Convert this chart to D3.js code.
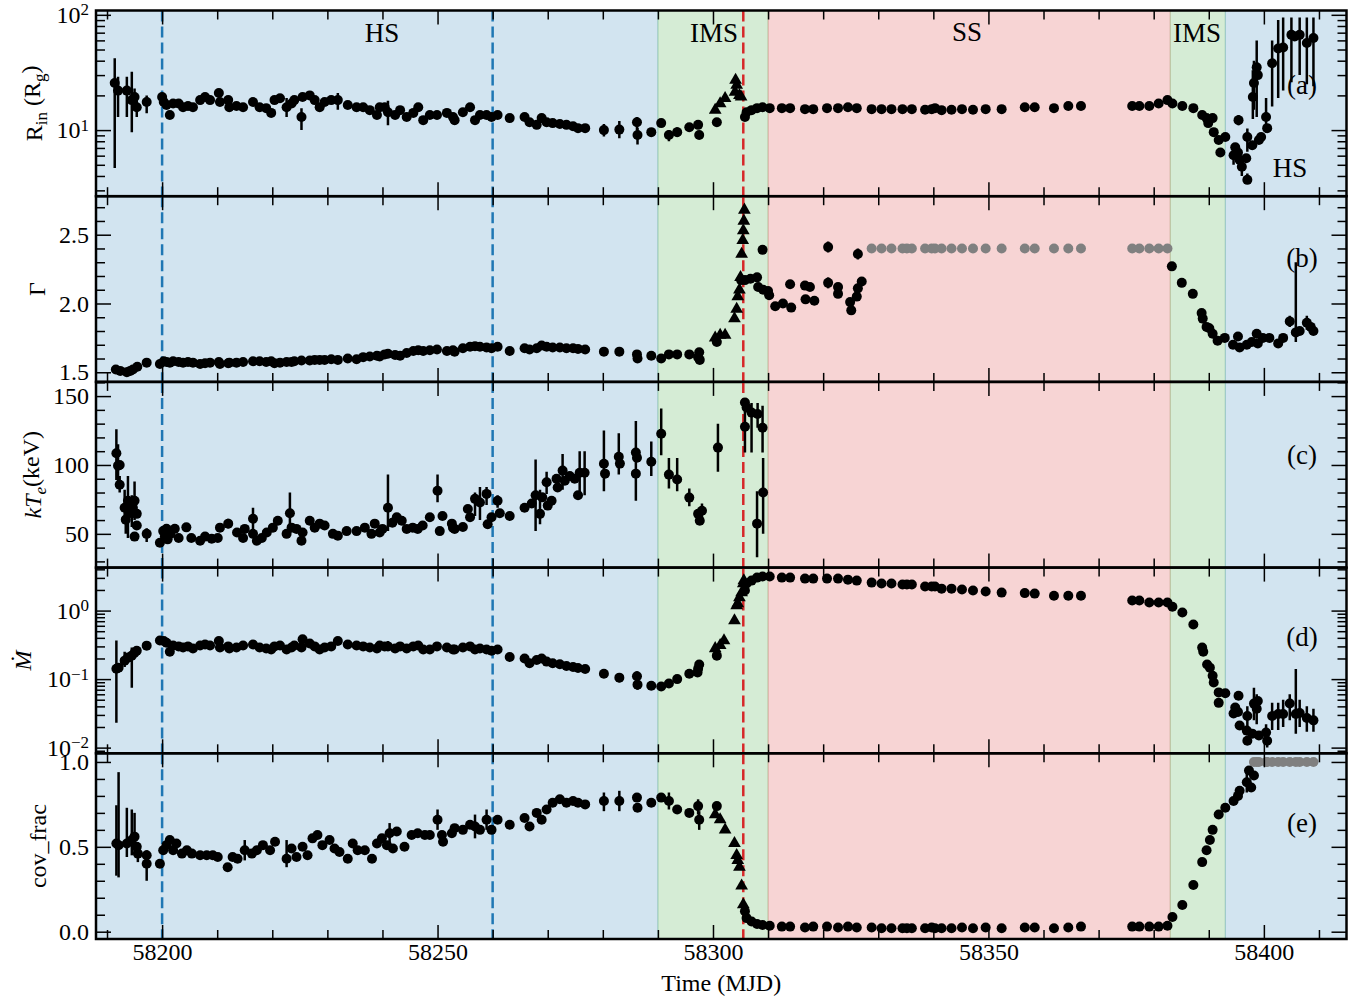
<!DOCTYPE html>
<html>
<head>
<meta charset="utf-8">
<script src="https://cdn.jsdelivr.net/npm/d3@7"></script>
<style>
  body { margin: 0; background: #fff; }
  text { font-family: "Liberation Serif", "DejaVu Serif", serif; fill: #000; }
</style>
</head>
<body>
<div id="chart"></div>
<script>

// Figure size and panel layout
const width = 1366;
const height = 1002;
const margin = {left: 96, right: 19.5, top: 10.5};
const panelH = 185.7;

// ---- data ----

// x axis (MJD)
const xDomain = [58188, 58415];
const xTicks = [58200, 58250, 58300, 58350, 58400];

// spectral states: name, start, end
const stateNames = ["HS", "IMS", "SS", "IMS", "HS"];
const stateStart = [58188, 58290, 58310, 58383, 58393];
const stateEnd = [58290, 58310, 58383, 58393, 58415];

// marker days
const blueLines = [58200, 58260];
const redLine = 58305.5;

// point rows: [mjd, value, lower, upper] (lower/upper optional)
const rinDots = [
  [58191.4,25.6,4.7,42],[58192.0,22,13,29],[58193.6,22,13,29],[58194.5,18.2,9.6,32],[58195,19.4,16,23],[58195.4,15.8,13,19],[58197.2,17.5,14,20],
  [58200,19.4],[58200.3,17.5],[58200.8,16.5],[58201.4,13.5],[58202,17],[58203,17],[58203.8,15.8],[58204.7,16.2],[58205.6,15.8],[58206.9,18.2],[58207.8,19.4],[58208.7,18.2],[58210.3,21],[58210.5,17.5],[58212,18.2],[58212.2,15.8],[58213.5,16.2],[58214.7,15.8],[58216.5,17.5],[58217.7,15.8],[58218.9,15.5],[58219.8,14.1],[58220.4,18.2],[58221.4,18.9],[58222.6,15.8,13,19],[58223.5,17],[58224,18.2],[58225.3,13,10,15.5],[58225.5,19.4],[58226.8,20],[58227.7,18.2],[58228.6,15.8],[58229.5,17.5],[58230.7,18.2],[58231.9,18.2,15,21],[58233.7,16.5],[58235.3,15.8],[58236.5,15.8],[58237.7,14.9],[58239,13.5],[58239.5,15.8],[58240.4,15.8],[58241,14.3,11,18],[58242.3,13.5],[58243.2,14.9],[58244.4,13],[58245.6,14.1],[58246.5,15.8],[58247.4,12.2],[58248.6,13.5],[58249.9,13.5],[58251.7,14.1],[58252.8,13],
  [58253.1,12.2],[58254.6,14.3],[58255.9,15.8],[58256.8,12.2],[58257.7,13.5],[58258.9,13.5],[58259.8,13],[58260.9,13.5],[58263.1,12.7],[58265.8,13],[58266.7,11.7],[58268,11.1],[58268.9,12.7],[58269.8,11.7],[58270.9,11.5],[58272.2,11.3],[58273.4,11.1],[58274.6,10.8],[58275.5,10.4],[58276.8,10.4],
  [58280.2,10,8.8,11.3],[58283,10.1,8.5,12],[58286.2,11.7,10,13],[58286.3,9.05,7.5,10.5],[58288.8,9.6],[58290.6,11.5],[58292,9.05,8,10],[58293.5,9.6,8.7,10.6],[58295.7,10.6],[58297.3,11.1],[58297.5,9.05],[58300.7,11.7],
  [58305.8,13],[58306.1,14.3],[58307,14.9],[58308,15.5],[58309,15.8],[58310.3,15.5],[58312.5,15.5],[58314,15.5],[58316.7,15.2],[58318.2,15.2],[58320.7,15.5],[58322.7,15.5],[58324.5,15.8],[58326.1,15.5],[58328.8,15.2],[58330.6,15.2],[58332.4,15.2],[58334.4,15.2],[58336.1,15.2],[58338.5,15],[58339.7,15.2],[58340.3,15.5],[58341.5,14.9],[58343.3,15],[58345.2,15.2],[58347.2,15],[58349.5,15.2],[58352.4,15.2],[58356.6,15.8],[58358.4,15.8],[58361.9,15.5],[58364.5,16.2],[58366.8,16.2],
  [58376.1,16.2],[58377.4,16.2],[58379.2,16.2],[58380.9,17],[58382.5,18.2],[58383.4,17],[58385.2,16.2],[58387.2,15.5],[58388.8,13.5],[58389.6,12.7],[58389.9,11.5],[58390.7,12.7],[58390.9,9.6],[58391.8,8.2],[58392.1,6.4],[58393,8.7],
  [58394.5,6.05,5,7.3],[58394.8,7.1],[58395.3,6.4],[58395.4,12.2,11,13.5],[58395.6,5.5],[58396,4.8,4,5.6],[58396.8,5.7],[58397,8.7,6.5,10.3],[58397,3.7,3.4,4.2],[58397.9,7.4],[58398,19.4,12.5,33],[58398.2,25.6,15,40],[58398.7,35,13,60],[58398.9,30],[58399.1,8.2],[58399.5,8.7],[58400.4,13,9.5,19],[58400.6,10.4],[58401.5,38,16,60],[58402.6,51,19,90],[58403.5,52,22,95],[58405,67,26,95],[58405.6,65],[58406.5,67,30,95],[58407.8,57,25,95],[58409,63,24,95]
];
const rinTri = [
  [58300.4,14.9],[58301.3,17],[58302.2,18.9],[58304,21.4],[58304.1,27.2],[58304.3,24.6],[58304.8,20],[58305.1,19.4]
];

const gammaDots = [
  [58191.6,1.52],[58192.4,1.51],[58193.6,1.50],[58194.2,1.51],[58194.7,1.52],[58195.5,1.54],[58197.2,1.57],[58199.6,1.56],
  [58200.3,1.58],[58200.8,1.575],[58201.4,1.57],[58202,1.58],[58203,1.575],[58203.8,1.57],[58204.7,1.575],[58205.6,1.57],[58206.9,1.56],[58207.8,1.565],[58208.7,1.57],[58210.3,1.575],[58210.5,1.56],[58212,1.565],[58212.2,1.57],[58213.5,1.57],[58214.7,1.575],[58216.5,1.58],[58217.7,1.58],[58218.9,1.575],[58219.8,1.58],[58220.4,1.565],[58221.4,1.57],[58222.6,1.575],[58223.5,1.575],[58224,1.58],[58225.3,1.585],[58226.8,1.585],[58227.7,1.59],[58228.6,1.59],[58229.5,1.59],[58230.7,1.595],[58231.9,1.59],[58233.7,1.60],[58235.3,1.595],[58236.5,1.61],[58237.7,1.615],[58239,1.62],[58239.5,1.615],[58240.4,1.63],[58241,1.635],[58242.3,1.625],[58243.2,1.62],[58244.4,1.64],[58245.6,1.655],[58246.5,1.66],[58247.4,1.655],[58248.6,1.66],[58249.9,1.665],[58251.7,1.655],[58252.8,1.66],
  [58253.1,1.65],[58254.6,1.675],[58255.9,1.685],[58256.8,1.69],[58257.7,1.685],[58258.9,1.68],[58259.8,1.675],[58260.9,1.685],[58263.1,1.655],[58265.8,1.675],[58266.7,1.665],[58268,1.675],[58268.9,1.695],[58269.8,1.685],[58270.9,1.68],[58272.2,1.68],[58273.4,1.675],[58274.6,1.675],[58275.5,1.67],[58276.8,1.665],
  [58280.2,1.65],[58283,1.65],[58286.2,1.63],[58286.3,1.60],[58288.8,1.62],[58290.6,1.60],[58292,1.63],[58293.5,1.63],[58295.7,1.63],[58297.3,1.61],[58297.5,1.645],[58297.6,1.59],[58300.7,1.72],
  [58305.1,2.17],[58305.8,2.17],[58306.8,2.18],[58308,2.19],[58309,2.39],[58308.2,2.12],[58309.1,2.10],[58310,2.09],[58310.2,2.06],[58311.3,1.98],[58312.7,2.0],[58314.2,1.97],[58314,2.14],[58316.7,2.13],[58317.6,2.12],[58316.8,2.03],[58318.4,2.02],[58320.9,2.41,2.37,2.45],[58320.9,2.15,2.11,2.19],[58322.7,2.12],[58322.7,2.07],[58324.9,2.01],[58325.1,1.95],[58326.1,2.05],[58326.3,2.36,2.32,2.40],[58326.3,2.11],[58327,2.16],
  [58383.3,2.27],[58385.1,2.15],[58387.1,2.07],[58388.7,1.93],[58388.9,1.89],[58389.6,1.83],[58390.1,1.82],[58390.7,1.78],[58391.6,1.73],[58392.9,1.75],[58394.4,1.70],[58395.3,1.76],[58395.6,1.68],[58396.9,1.70],[58397.8,1.72],[58398.7,1.78],[58398.9,1.71],[58399.8,1.75],[58401,1.75],[58402.6,1.71],[58403.5,1.75],[58404.7,1.87,1.83,1.91],[58405.8,1.79,1.72,2.30],[58406.5,1.80],[58407.8,1.86,1.81,1.91],[58408.5,1.83],[58409,1.80]
];
const gammaTri = [
  [58300.4,1.75],[58301.3,1.77],[58302.2,1.77],[58303.9,1.89],[58304.3,1.96],[58304.5,2.05],[58304.8,2.10],[58305,2.19],[58305.2,2.36],[58305.4,2.46],[58305.5,2.53],[58305.6,2.60],[58305.7,2.68]
];
// photon index frozen in the soft state (grey)
const gammaFixedValue = 2.4;
const gammaFixedDays = [58328.8,58330.6,58332.4,58334.4,58335.2,58336.1,58338.5,58339.7,58340.3,58341.5,58343.3,58345.2,58347.2,58349.5,58352.4,58356.6,58358.4,58361.9,58364.5,58366.8,58376.1,58377.4,58379.2,58380.9,58382.5];

const kteDots = [
  [58191.7,108.5,89,126],[58192,99.5,88,115],[58192.3,100],[58192.3,85.7,80,92],[58193.2,69,58,82],[58193.4,60.3,50,70],[58193.8,74,47,92],[58194.5,65,55,78],[58194.7,69],[58195,74,60,88],[58195.4,64.5],[58195.4,56],[58195,48],[58197.2,50,44,54],[58199.6,43.5],
  [58200.2,52],[58200.5,48],[58201,46],[58200.8,53.7],[58201.5,50],[58202.3,53.7],[58203,47],[58204.4,54.7],[58205.3,47],[58206.9,45],[58207.8,48],[58209,46.5],[58210.1,47],[58210.5,54.5],[58212,57.4,54,61],[58213.6,51],[58214.7,47],[58215,53.6],[58216.5,61,53,69],[58216.5,50],[58217.2,45],[58218.1,47],[58219,51],[58220.1,54.5],[58221,59.5],[58222.6,50],[58223.2,65,52,80],[58223.5,54.5],[58224.4,53.6],[58225.3,45],[58225.5,51],[58226.8,59.5],[58227.7,54.5],[58228.6,57.4],[58229.5,56],[58231,50],[58231.9,48.7],[58233.5,52],[58235.3,52],[58236.8,54.5],[58238,50],[58238.6,57.4],[58239.5,51],[58240,53.6],[58241,69,52,93],[58241.8,58],[58242.6,62],[58243.5,59.5],[58244.4,53.6],[58245.5,54.5],[58246.4,53.6],[58247.3,56],[58248.6,62],[58250,81.3,73,93],[58250.4,52],[58250.9,63],[58252.6,57.4],[58253.1,53.6],
  [58252.8,54.5],[58254.6,55],[58255.5,68],[58255.9,62],[58256.8,75.4,63,80],[58257.7,72.8,60,84],[58258.9,79,71,84],[58259.1,57],[58259.8,62],[58260.9,74,69,78],[58261.3,65],[58263.1,63],[58265.8,69],[58267.1,72],[58267.8,78,52,104],[58268.6,64.5,57,82],[58269,76.5],[58269.8,87.5,79,95],[58270,70.5],[58270.7,74],[58271.6,90],[58271.8,83.6],[58272.7,95.9,82,108],[58273.1,88.6],[58274,92],[58274.9,90],[58275.5,78],[58275.8,94.4,78,110],[58276.7,94.4,78,110],
  [58280.2,100.9,81,125],[58280.4,93.7],[58282.9,106,93,123],[58283.1,101],[58286,109,74,132],[58286.2,105.3],[58286,93.7],[58288.8,102.4,92,117],[58290.6,122.7,107,141],[58292,93,83,105],[58293.5,89.4,81,105],[58295.7,76.3,70,83],[58297.3,64.5],[58297.6,59.5],[58298,66.8,60,72],[58300.9,112.6,95,130],
  [58305.8,145.3],[58306.1,141.7],[58305.8,127.8,109,145],[58307,138,109,145],[58308.1,137,127,145],[58309,127,109,143],[58308,57.4,33,81],[58309.1,80,50,105]
];

const mdotDots = [
  [58191.7,0.142,0.023,0.365],[58192.1,0.147],[58193.2,0.186,0.15,0.25],[58193.8,0.206],[58194.5,0.22,0.075,0.29],[58195,0.243],[58195.4,0.26],[58197.2,0.308,0.27,0.34],[58199.6,0.365],
  [58200.3,0.36],[58200.8,0.34],[58201.4,0.25],[58202,0.31],[58203,0.3],[58203.8,0.29],[58204.7,0.3],[58205.6,0.28],[58206.9,0.31],[58207.8,0.32],[58208.7,0.31],[58210.3,0.36],[58210.5,0.29],[58212,0.3],[58212.2,0.28],[58213.5,0.29],[58214.7,0.31],[58216.5,0.32],[58217.7,0.29],[58218.9,0.28],[58219.8,0.27],[58220.4,0.3],[58221.4,0.31],[58222.6,0.27,0.24,0.31],[58223.5,0.29],[58224,0.31],[58225.3,0.29,0.26,0.33],[58225.5,0.38],[58226.8,0.33],[58227.7,0.3],[58228.6,0.27],[58229.5,0.29],[58230.7,0.3],[58231.9,0.36],[58233.7,0.32],[58235.3,0.31],[58236.5,0.3],[58237.7,0.29],[58239,0.28],[58239.5,0.31],[58240.4,0.3],[58241,0.3,0.26,0.36],[58242.3,0.28],[58243.2,0.3],[58244.4,0.28],[58245.6,0.3],[58246.5,0.31],[58247.4,0.27],[58248.6,0.27],[58249.9,0.3],[58251.7,0.29],[58252.8,0.27],
  [58253.1,0.27],[58254.6,0.29],[58255.9,0.3],[58256.8,0.27],[58257.7,0.28],[58258.9,0.27],[58259.8,0.26],[58260.9,0.27],[58263.1,0.21],[58265.8,0.2],[58266.7,0.17],[58268,0.19],[58268.9,0.2],[58269.8,0.18],[58270.9,0.17],[58272.2,0.165],[58273.4,0.155],[58274.6,0.15],[58275.5,0.145],[58276.8,0.14],
  [58280.2,0.12],[58283,0.105,0.09,0.12],[58286.2,0.11,0.1,0.13],[58286.3,0.083,0.07,0.1],[58288.8,0.08],[58290.6,0.078],[58292,0.086],[58293.5,0.1,0.09,0.11],[58295.7,0.12],[58297.3,0.142],[58297.5,0.163],[58297.2,0.125],[58300.7,0.22],
  [58305.8,1.96],[58306.1,2.48],[58307,2.74],[58308,3.03],[58309,3.14],[58310.3,3.14],[58312.5,3.03],[58314,3.03],[58316.7,2.93],[58318.2,2.93],[58320.7,2.93],[58322.7,2.93],[58324.5,2.83],[58326.1,2.74],[58328.8,2.56],[58330.6,2.48],[58332.4,2.48],[58334.4,2.4],[58335.2,2.4],[58336.1,2.4],[58338.5,2.24],[58339.7,2.24],[58340.3,2.24],[58341.5,2.09],[58343.3,2.09],[58345.2,2.03],[58347.2,1.96],[58349.5,1.9],[58352.4,1.83],[58356.6,1.8],[58358.4,1.77],[58361.9,1.65],[58364.5,1.65],[58366.8,1.65],
  [58376.1,1.4],[58377.4,1.4],[58379.2,1.31],[58380.9,1.31],[58382.5,1.31],[58383.4,1.14],[58385.2,0.935],[58387.2,0.625],[58388.8,0.288],[58389,0.25],[58389.7,0.163],[58390.2,0.147],[58390.7,0.112],[58390.9,0.089],[58391.8,0.064],[58393,0.062],[58391.8,0.045],
  [58394.5,0.0314],[58394.8,0.0385],[58395.3,0.033],[58395.4,0.057],[58395.6,0.021],[58396.9,0.0177],[58397,0.029,0.02,0.04],[58397,0.0126,0.011,0.015],[58397.9,0.016],[58398.2,0.0439,0.025,0.075],[58398.7,0.037,0.022,0.06],[58398.9,0.048],[58399.1,0.015],[58400.4,0.0166,0.012,0.022],[58400.6,0.0126,0.01,0.016],[58401.5,0.029,0.018,0.045],[58402.6,0.031,0.018,0.045],[58403.5,0.031,0.02,0.05],[58404.7,0.044,0.025,0.06],[58405.8,0.031,0.016,0.14],[58406.5,0.032,0.02,0.05],[58407.8,0.027,0.017,0.04],[58409,0.025,0.017,0.037]
];
const mdotTri = [
  [58300.4,0.28],[58301.3,0.31],[58302,0.365],[58303.9,0.715],[58304.3,1.18],[58304.5,1.27],[58304.8,1.55],[58305.2,1.83],[58305.5,2.48],[58305.6,2.74]
];

const covDots = [
  [58191.7,0.52,0.33,0.745],[58192.1,0.51,0.32,0.94],[58193.6,0.52,0.44,0.73],[58194.5,0.54,0.45,0.72],[58195,0.56,0.46,0.70],[58195.4,0.5],[58195.6,0.46,0.41,0.5],[58197.2,0.45],[58197.2,0.40,0.3,0.48],[58199.6,0.40],
  [58200.2,0.48],[58200.8,0.51],[58201.4,0.54],[58202,0.48],[58202.6,0.52],[58203.6,0.46],[58204.5,0.48],[58205.4,0.46],[58206.9,0.45],[58208.1,0.45],[58209.2,0.45],[58210.1,0.44],[58211.9,0.38],[58212.8,0.44],[58213.7,0.43],[58215,0.48,0.42,0.54],[58216.3,0.46],[58217.2,0.48],[58218.3,0.51],[58219.6,0.48],[58220.5,0.53],[58222.6,0.43,0.38,0.54],[58223.5,0.49],[58224.4,0.44],[58225.5,0.5],[58226.4,0.45],[58227.3,0.55],[58228.2,0.57],[58229.1,0.51],[58230.4,0.54],[58231.3,0.49],[58232.2,0.47],[58233.7,0.43],[58234.6,0.52],[58235.5,0.48],[58236.8,0.48],[58238.1,0.43],[58239,0.52],[58239.9,0.55],[58240.8,0.51],[58241.3,0.58,0.52,0.64],[58241.9,0.49],[58242.6,0.59],[58244,0.5],[58245.3,0.57],[58246.4,0.58],[58247.7,0.57],[58248.6,0.57],[58250,0.66,0.6,0.72],[58250.8,0.57],[58251,0.53],[58252.6,0.58],[58253.1,0.61],
  [58254.6,0.6],[58255.9,0.63],[58256.8,0.62,0.55,0.69],[58257.7,0.6],[58258.9,0.66,0.6,0.72],[58259.8,0.6],[58260.9,0.66],[58263.1,0.63],[58265.8,0.67],[58266.7,0.62],[58268,0.7],[58268.9,0.66],[58269.8,0.72],[58270.9,0.76],[58272.2,0.78],[58273.4,0.76],[58274.6,0.77],[58275.5,0.76],[58276.8,0.75],
  [58280.2,0.77,0.71,0.82],[58283,0.77,0.71,0.83],[58286.2,0.79],[58286.3,0.73],[58288.8,0.76],[58290.6,0.79],[58292,0.77,0.72,0.82],[58293.5,0.72],[58295.7,0.70],[58297.3,0.74,0.69,0.78],[58297.5,0.66,0.6,0.71],[58300.7,0.74],
  [58305.8,0.12],[58306.1,0.08],[58307,0.06],[58308,0.045],[58309,0.04],[58310.3,0.035],[58312.5,0.03],[58314,0.03],[58316.7,0.025],[58318.2,0.03],[58320.7,0.03],[58322.7,0.025],[58324.5,0.03],[58326.1,0.025],[58328.8,0.025],[58330.6,0.02],[58332.4,0.02],[58334.4,0.02],[58335.2,0.02],[58336.1,0.02],[58338.5,0.02],[58339.7,0.025],[58340.3,0.02],[58341.5,0.02],[58343.3,0.02],[58345.2,0.025],[58347.2,0.02],[58349.5,0.025],[58352.4,0.02],[58356.6,0.025],[58358.4,0.025],[58361.9,0.02],[58364.5,0.025],[58366.8,0.03],
  [58376.1,0.03],[58377.4,0.03],[58379.2,0.03],[58380.9,0.03],[58382.5,0.035],[58383.4,0.087],[58385.2,0.157],[58387.2,0.275],[58388.8,0.41],[58389.6,0.48],[58390.2,0.54],[58390.7,0.6],[58391.8,0.69],[58393,0.73],[58394.5,0.77],[58395.3,0.8],[58395.6,0.83],[58396.9,0.88,0.82,0.94],[58397.3,0.95],[58397.7,0.85],[58398.2,0.92]
];
const covTri = [
  [58300.4,0.69],[58301.3,0.66],[58302.2,0.6],[58303.9,0.52],[58304.3,0.45],[58304.5,0.42],[58304.8,0.38],[58305.2,0.27],[58305.5,0.16]
];
// covering fraction frozen at 1 in the late hard state (grey)
const covFixedValue = 1.0;
const covFixedDays = [58398.2,58398.7,58399.1,58400.4,58400.6,58401.5,58402.6,58403.5,58404.7,58405.8,58406.5,58407.8,58409];

// y tick values per panel
const rinTicks = [10, 100];
const gammaTicks = [1.5, 2.0, 2.5];
const kteTicks = [50, 100, 150];
const mdotTicks = [0.01, 0.1, 1];
const covTicks = [0.0, 0.5, 1.0];

// ---- drawing ----

const stateColor = {HS: "#1f77b4", IMS: "#2ca02c", SS: "#d62728"};
const plotW = width - margin.left - margin.right;

const svg = d3.select("#chart")
  .append("svg")
  .attr("width", width)
  .attr("height", height);

const x = d3.scaleLinear().domain(xDomain).range([margin.left, margin.left + plotW]);

// log minor ticks between two decades
function logMinor(lo, hi) {
  const out = [];
  for (let e = Math.floor(Math.log10(lo)); e <= Math.ceil(Math.log10(hi)); e++) {
    for (let k = 2; k <= 9; k++) {
      const v = k * Math.pow(10, e);
      if (v >= lo && v <= hi) out.push(v);
    }
  }
  return out;
}

// "10^n" style label with superscript
function powLabel(sel) {
  sel.each(function(d) {
    const t = d3.select(this);
    const e = Math.round(Math.log10(d));
    t.text(null);
    t.append("tspan").text("10");
    t.append("tspan").attr("dy", "-0.45em").attr("font-size", "17px")
      .text(e < 0 ? "\u2212" + (-e) : String(e));
  });
}

const panels = [
  {dots: rinDots, tri: rinTri, log: true, domain: [2.67, 109], ticks: rinTicks,
   minor: logMinor(2.67, 109), tag: "(a)", labelX: 42},
  {dots: gammaDots, tri: gammaTri, grey: gammaFixedDays.map(d => [d, gammaFixedValue]),
   domain: [1.43, 2.78], ticks: gammaTicks, minor: d3.range(15, 28).map(v => v / 10),
   fmt: d3.format(".1f"), tag: "(b)", labelX: 45},
  {dots: kteDots, tri: [], domain: [25.5, 160.3], ticks: kteTicks,
   minor: d3.range(30, 161, 10), fmt: d3.format("d"), tag: "(c)", labelX: 41},
  {dots: mdotDots, tri: mdotTri, log: true, domain: [0.00826, 4.24], ticks: mdotTicks,
   minor: logMinor(0.00826, 4.24), tag: "(d)", labelX: 31},
  {dots: covDots, tri: covTri, grey: covFixedDays.map(d => [d, covFixedValue]),
   domain: [-0.043, 1.051], ticks: covTicks, minor: d3.range(0, 11).map(v => v / 10),
   fmt: d3.format(".1f"), tag: "(e)", labelX: 46}
];

const xMinor = d3.range(58190, 58415, 10).filter(v => v % 50 !== 0);

panels.forEach((p, i) => {
  const top = margin.top + i * panelH;
  const g = svg.append("g").attr("transform", `translate(0,${top})`);

  const y = (p.log ? d3.scaleLog() : d3.scaleLinear()).domain(p.domain).range([panelH, 0]);

  // clip to the panel
  const clipId = "clip" + i;
  g.append("clipPath").attr("id", clipId)
    .append("rect").attr("x", margin.left).attr("y", 0).attr("width", plotW).attr("height", panelH);
  const inner = g.append("g").attr("clip-path", `url(#${clipId})`);

  // state shading
  inner.selectAll(".span")
    .data(stateNames.map((n, k) => ({n, a: stateStart[k], b: stateEnd[k]})))
    .join("rect")
      .attr("x", d => x(d.a))
      .attr("width", d => x(d.b) - x(d.a))
      .attr("y", 0)
      .attr("height", panelH)
      .attr("fill", d => stateColor[d.n])
      .attr("fill-opacity", 0.2)
      .attr("stroke", d => stateColor[d.n])
      .attr("stroke-opacity", 0.2)
      .attr("stroke-width", 1);

  // dashed day markers
  inner.selectAll(".blue")
    .data(blueLines)
    .join("line")
      .attr("x1", d => x(d)).attr("x2", d => x(d))
      .attr("y1", 0).attr("y2", panelH)
      .attr("stroke", "#1f77b4").attr("stroke-width", 2.5)
      .attr("stroke-dasharray", "11,5");

  inner.append("line")
    .attr("x1", x(redLine)).attr("x2", x(redLine))
    .attr("y1", 0).attr("y2", panelH)
    .attr("stroke", "#d62728").attr("stroke-width", 2.5)
    .attr("stroke-dasharray", "11,5");

  // error bars
  const withErr = p.dots.concat(p.tri).filter(d => d.length > 2);
  inner.selectAll(".err")
    .data(withErr)
    .join("line")
      .attr("x1", d => x(d[0])).attr("x2", d => x(d[0]))
      .attr("y1", d => y(d[2])).attr("y2", d => y(d[3]))
      .attr("stroke", "#000").attr("stroke-width", 2.5);

  // grey frozen points
  if (p.grey) {
    inner.selectAll(".grey")
      .data(p.grey)
      .join("circle")
        .attr("cx", d => x(d[0])).attr("cy", d => y(d[1]))
        .attr("r", 5).attr("fill", "#808080");
  }

  // circles
  inner.selectAll(".dot")
    .data(p.dots)
    .join("circle")
      .attr("cx", d => x(d[0])).attr("cy", d => y(d[1]))
      .attr("r", 5).attr("fill", "#000");

  // triangles
  inner.selectAll(".tri")
    .data(p.tri)
    .join("path")
      .attr("transform", d => `translate(${x(d[0])},${y(d[1])})`)
      .attr("d", d3.symbol(d3.symbolTriangle, 70))
      .attr("fill", "#000");

  // y axes: left with labels, right without, plus minor ticks
  const minor = p.minor.filter(v => !p.ticks.some(t => Math.abs(t - v) < 1e-9));
  const left = g.append("g").attr("transform", `translate(${margin.left},0)`)
    .call(d3.axisLeft(y).tickValues(p.ticks).tickSize(-15).tickPadding(7)
      .tickFormat(p.log ? (d => d) : p.fmt));
  left.selectAll("text").attr("font-size", "24px")
    .attr("font-family", "Liberation Serif, DejaVu Serif, serif");
  if (p.log) left.selectAll("text").call(powLabel);
  g.append("g").attr("transform", `translate(${margin.left},0)`)
    .call(d3.axisLeft(y).tickValues(minor).tickSize(-9).tickFormat(""));
  g.append("g").attr("transform", `translate(${margin.left + plotW},0)`)
    .call(d3.axisRight(y).tickValues(p.ticks).tickSize(-15).tickFormat(""));
  g.append("g").attr("transform", `translate(${margin.left + plotW},0)`)
    .call(d3.axisRight(y).tickValues(minor).tickSize(-9).tickFormat(""));

  // x axes, top and bottom of every panel
  const bottom = g.append("g").attr("transform", `translate(0,${panelH})`)
    .call(d3.axisBottom(x).tickValues(xTicks).tickSize(-14).tickPadding(4)
      .tickFormat(i === panels.length - 1 ? d3.format("d") : ""));
  bottom.selectAll("text").attr("font-size", "24px")
    .attr("font-family", "Liberation Serif, DejaVu Serif, serif");
  g.append("g").attr("transform", `translate(0,${panelH})`)
    .call(d3.axisBottom(x).tickValues(xMinor).tickSize(-9).tickFormat(""));
  g.append("g").call(d3.axisTop(x).tickValues(xTicks).tickSize(-14).tickFormat(""));
  g.append("g").call(d3.axisTop(x).tickValues(xMinor).tickSize(-9).tickFormat(""));

  g.selectAll(".domain").remove();
  g.selectAll(".tick line").attr("stroke", "#000").attr("stroke-width", 1.5);

  // frame
  g.append("rect")
    .attr("x", margin.left).attr("y", 0)
    .attr("width", plotW).attr("height", panelH)
    .attr("fill", "none").attr("stroke", "#000").attr("stroke-width", 2.5);

  // panel tag
  g.append("text")
    .attr("x", 1302).attr("y", [83, 71, 82, 78, 79][i])
    .attr("text-anchor", "middle")
    .attr("font-size", "27px")
    .text(p.tag);

  // y label
  const yl = g.append("text")
    .attr("transform", `translate(${p.labelX},${panelH / 2}) rotate(-90)`)
    .attr("text-anchor", "middle")
    .attr("font-size", "24px");
  if (i === 0) {
    yl.append("tspan").text("R");
    yl.append("tspan").attr("font-size", "17px").attr("dy", "0.3em").text("in");
    yl.append("tspan").attr("dy", "-0.3em").text("\u00a0(R");
    yl.append("tspan").attr("font-size", "17px").attr("dy", "0.3em").text("g");
    yl.append("tspan").attr("dy", "-0.3em").text(")");
  } else if (i === 1) {
    yl.text("\u0393");
  } else if (i === 2) {
    yl.append("tspan").attr("font-style", "italic").text("kT");
    yl.append("tspan").attr("font-style", "italic").attr("font-size", "17px").attr("dy", "0.3em").text("e");
    yl.append("tspan").attr("dy", "-0.3em").text("(keV)");
  } else if (i === 3) {
    yl.attr("font-style", "italic").text("\u1E40");
  } else {
    yl.text("cov_frac");
  }
});

// state names
const stateLabels = svg.append("g").attr("font-size", "27px").attr("text-anchor", "middle");
stateLabels.append("text").attr("x", 382).attr("y", 42).text(stateNames[0]);
stateLabels.append("text").attr("x", 714).attr("y", 42).text(stateNames[1]);
stateLabels.append("text").attr("x", 967).attr("y", 41).text(stateNames[2]);
stateLabels.append("text").attr("x", 1197).attr("y", 42).text(stateNames[3]);
stateLabels.append("text").attr("x", 1290).attr("y", 177).text(stateNames[4]);

// x axis title
svg.append("text")
  .attr("x", margin.left + plotW / 2)
  .attr("y", 991)
  .attr("text-anchor", "middle")
  .attr("font-size", "24px")
  .text("Time (MJD)");

</script>
</body>
</html>
